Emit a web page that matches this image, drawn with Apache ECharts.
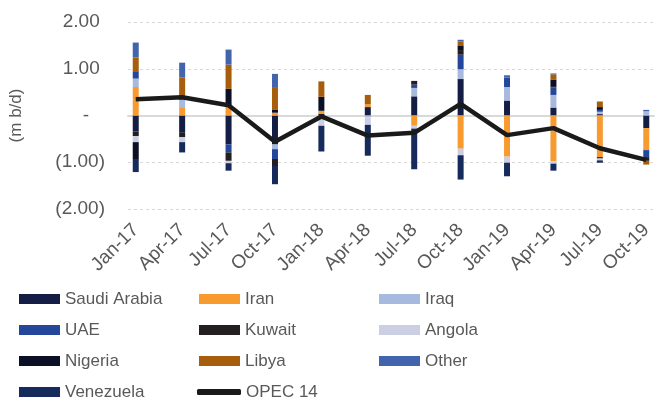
<!DOCTYPE html>
<html>
<head>
<meta charset="utf-8">
<script src="https://cdn.jsdelivr.net/npm/echarts@6/dist/echarts.min.js"></script>
<style>
html, body { margin: 0; padding: 0; background: #fff; }
#main { width: 662px; height: 401px; }
</style>
</head>
<body>
<div id="main"></div>
<script>
// monthly axis, values only every quarter
var months = ['Jan-17', 'Feb-17', 'Mar-17', 'Apr-17', 'May-17', 'Jun-17', 'Jul-17', 'Aug-17', 'Sep-17', 'Oct-17', 'Nov-17', 'Dec-17',
    'Jan-18', 'Feb-18', 'Mar-18', 'Apr-18', 'May-18', 'Jun-18', 'Jul-18', 'Aug-18', 'Sep-18', 'Oct-18', 'Nov-18', 'Dec-18',
    'Jan-19', 'Feb-19', 'Mar-19', 'Apr-19', 'May-19', 'Jun-19', 'Jul-19', 'Aug-19', 'Sep-19', 'Oct-19'];
var quarters = ['Jan-17', 'Apr-17', 'Jul-17', 'Oct-17', 'Jan-18', 'Apr-18', 'Jul-18', 'Oct-18', 'Jan-19', 'Apr-19', 'Jul-19', 'Oct-19'];

var saudi     = [-0.34, -0.37, -0.62, -0.62, 0.04, 0.18, 0.41, 0.78, 0.32, 0.17, 0.03, -0.27];
var iran      = [0.61, 0.16, 0.22, 0.06, 0.06, 0.06, -0.22, -0.71, -0.88, -0.98, -0.89, -0.47];
var iraq      = [0.18, 0.18, 0, -0.10, 0, -0.04, 0.18, 0.21, 0.29, 0.27, 0.05, 0.09];
var uae       = [0.14, 0, -0.17, -0.21, 0, 0, 0.07, 0.31, 0.20, 0.16, 0.04, -0.15];
var kuwait    = [-0.10, -0.09, -0.18, -0.15, 0, 0, 0.08, 0.10, 0, 0.03, -0.03, -0.08];
var angola    = [-0.13, -0.11, -0.05, 0, -0.22, -0.16, -0.06, -0.14, -0.13, -0.05, -0.04, 0];
var nigeria   = [-0.36, 0, 0.35, 0.07, 0.30, 0, 0, 0.10, 0, 0.14, 0.06, 0];
var libya     = [0.31, 0.47, 0.52, 0.46, 0.33, 0.20, 0, 0.08, 0, 0.11, 0.12, -0.08];
var other     = [0.32, 0.32, 0.32, 0.30, 0, 0, 0, 0.04, 0.05, 0.02, 0, 0.03];
var venezuela = [-0.28, -0.22, -0.16, -0.39, -0.55, -0.66, -0.87, -0.52, -0.29, -0.15, -0.05, 0];
var opec14    = [0.35, 0.39, 0.22, -0.56, -0.02, -0.43, -0.37, 0.25, -0.42, -0.27, -0.70, -0.95];

var yTicks = [-2, -1, 0, 1, 2];

var countries = [
    { name: 'Saudi Arabia', data: saudi, color: '#141d44' },
    { name: 'Iran', data: iran, color: '#f79b31' },
    { name: 'Iraq', data: iraq, color: '#a8b9de' },
    { name: 'UAE', data: uae, color: '#24479c' },
    { name: 'Kuwait', data: kuwait, color: '#231f20' },
    { name: 'Angola', data: angola, color: '#ccceE3' },
    { name: 'Nigeria', data: nigeria, color: '#0b1026' },
    { name: 'Libya', data: libya, color: '#a65d0c' },
    { name: 'Other', data: other, color: '#4264ac' },
    { name: 'Venezuela', data: venezuela, color: '#172a5c' }
];

// legend grid: name, column x, row centre y
var legendPos = [
    ['Saudi Arabia', 19, 299], ['Iran', 199, 299], ['Iraq', 379, 299],
    ['UAE', 19, 330], ['Kuwait', 199, 330], ['Angola', 379, 330],
    ['Nigeria', 19, 361], ['Libya', 199, 361], ['Other', 379, 361],
    ['Venezuela', 19, 392], ['OPEC 14', 197, 392]
];

var font = "'Liberation Sans', Arial, sans-serif";
var grey = '#595959';

function pairs(arr) {
    return quarters.map(function (q, i) { return [q, arr[i]]; });
}

var series = countries.map(function (c) {
    return {
        name: c.name,
        type: 'bar',
        stack: 'opec',
        barWidth: 6,
        itemStyle: { color: c.color },
        data: pairs(c.data)
    };
});
series.push({
    name: 'OPEC 14',
    type: 'line',
    symbol: 'none',
    connectNulls: true,
    z: 5,
    lineStyle: { color: '#1a1a1a', width: 4.5 },
    itemStyle: { color: '#1a1a1a' },
    data: pairs(opec14)
});

var legendText = { color: grey, fontSize: 17, fontFamily: font, lineHeight: 20 };
var legends = legendPos.map(function (p) {
    var isLine = p[0] === 'OPEC 14';
    return {
        left: p[1],
        top: p[2] - 10,
        padding: 0,
        itemWidth: isLine ? 44 : 41,
        itemHeight: isLine ? 6 : 10,
        icon: isLine ? 'roundRect' : 'rect',
        textStyle: legendText,
        data: [p[0]]
    };
});

var myChart = echarts.init(document.getElementById('main'));
myChart.setOption({
    animation: false,
    grid: { left: 124, right: 8, top: 22, bottom: 192 },
    legend: legends,
    xAxis: {
        type: 'category',
        data: months,
        axisLine: { onZero: true, lineStyle: { color: '#d9d9d9', width: 2 } },
        axisTick: { interval: 2, length: 5, lineStyle: { color: '#d9d9d9', width: 2 } },
        axisLabel: {
            interval: 2, rotate: 45, margin: 18,
            color: grey, fontSize: 19, fontFamily: font
        },
        splitLine: { show: false }
    },
    yAxis: {
        type: 'value',
        min: yTicks[0],
        max: yTicks[yTicks.length - 1],
        interval: 1,
        name: '(m b/d)',
        nameLocation: 'middle',
        nameGap: 103,
        nameTextStyle: { color: grey, fontSize: 17, fontFamily: font },
        axisLine: { show: false },
        axisTick: { show: false },
        axisLabel: {
            margin: 23,
            color: grey, fontSize: 19, fontFamily: font,
            formatter: function (v) {
                if (v > 0) return v.toFixed(2) + ' ';
                if (v < 0) return '(' + (-v).toFixed(2) + ')';
                return '-   ';
            }
        },
        splitLine: { lineStyle: { color: '#d9d9d9', type: [3, 3] } }
    },
    series: series
});
</script>
</body>
</html>
